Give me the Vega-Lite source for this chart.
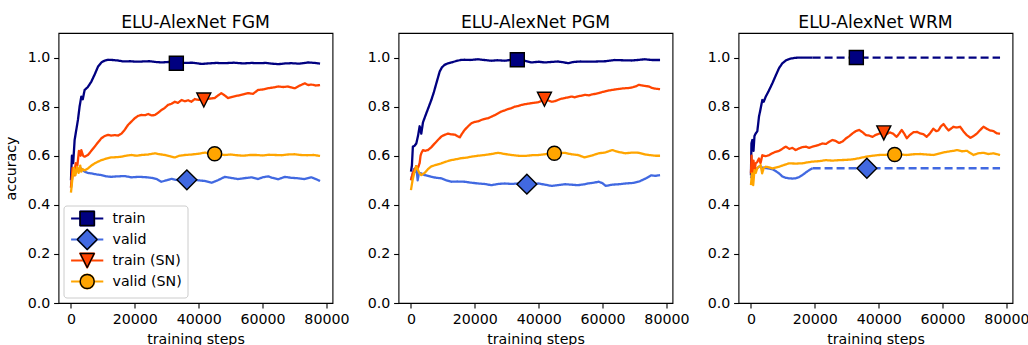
{
"$schema": "https://vega.github.io/schema/vega-lite/v6.json",
"autosize": {"type": "pad"},
"padding": {"left": 3.5, "top": 13, "right": 0, "bottom": 0},
"background": "white",
"spacing": 66,
"bounds": "flush",
"config": {
  "font": "DejaVu Sans",
  "view": {"stroke": "black", "strokeWidth": 1.1},
  "axis": {"grid": false, "domain": false, "tickColor": "black", "tickSize": 4.9, "tickWidth": 1.1, "labelFont": "DejaVu Sans", "labelFontSize": 14.2, "labelColor": "black", "titleFont": "DejaVu Sans", "titleFontSize": 14.2, "titleFontWeight": "normal", "titleColor": "black", "labelFlush": false, "labelOverlap": false},
  "axisX": {"labelPadding": 5, "titlePadding": 5},
  "axisY": {"labelPadding": 3.8, "titlePadding": 9},
  "title": {"font": "DejaVu Sans", "fontSize": 17.2, "fontWeight": "normal", "color": "black", "anchor": "middle", "frame": "group", "offset": 2, "baseline": "alphabetic"}
},
"resolve": {
  "scale": {"stroke": "independent", "fill": "independent", "shape": "independent", "strokeDash": "independent"},
  "legend": {"stroke": "independent", "fill": "independent", "shape": "independent", "strokeDash": "independent"}
},
"datasets": {
  "marks": [
    {"panel": "FGM", "label": "train", "step": 33000, "acc": 0.977},
    {"panel": "FGM", "label": "valid", "step": 36300, "acc": 0.502},
    {"panel": "FGM", "label": "train (SN)", "step": 41600, "acc": 0.827},
    {"panel": "FGM", "label": "valid (SN)", "step": 45000, "acc": 0.608},
    {"panel": "PGM", "label": "train", "step": 33300, "acc": 0.991},
    {"panel": "PGM", "label": "valid", "step": 36300, "acc": 0.484},
    {"panel": "PGM", "label": "train (SN)", "step": 41800, "acc": 0.83},
    {"panel": "PGM", "label": "valid (SN)", "step": 44900, "acc": 0.61},
    {"panel": "WRM", "label": "train", "step": 33000, "acc": 1.0},
    {"panel": "WRM", "label": "valid", "step": 36300, "acc": 0.549},
    {"panel": "WRM", "label": "train (SN)", "step": 41600, "acc": 0.693},
    {"panel": "WRM", "label": "valid (SN)", "step": 45000, "acc": 0.605}
  ],
  "lines": [
{"panel":"FGM","series":"train","seg":"a","step":0,"acc":0.50},
{"panel":"FGM","series":"train","seg":"a","step":300,"acc":0.60},
{"panel":"FGM","series":"train","seg":"a","step":700,"acc":0.57},
{"panel":"FGM","series":"train","seg":"a","step":1150,"acc":0.664},
{"panel":"FGM","series":"train","seg":"a","step":1600,"acc":0.70},
{"panel":"FGM","series":"train","seg":"a","step":2190,"acc":0.746},
{"panel":"FGM","series":"train","seg":"a","step":2700,"acc":0.80},
{"panel":"FGM","series":"train","seg":"a","step":3240,"acc":0.841},
{"panel":"FGM","series":"train","seg":"a","step":3700,"acc":0.83},
{"panel":"FGM","series":"train","seg":"a","step":4290,"acc":0.868},
{"panel":"FGM","series":"train","seg":"a","step":5300,"acc":0.88},
{"panel":"FGM","series":"train","seg":"a","step":6380,"acc":0.902},
{"panel":"FGM","series":"train","seg":"a","step":7400,"acc":0.93},
{"panel":"FGM","series":"train","seg":"a","step":8470,"acc":0.963},
{"panel":"FGM","series":"train","seg":"a","step":9520,"acc":0.98},
{"panel":"FGM","series":"train","seg":"a","step":10500,"acc":0.987},
{"panel":"FGM","series":"train","seg":"a","step":11600,"acc":0.991},
{"panel":"FGM","series":"train","seg":"a","step":13000,"acc":0.99},
{"panel":"FGM","series":"train","seg":"a","step":14700,"acc":0.988},
{"panel":"FGM","series":"train","seg":"a","step":16500,"acc":0.984},
{"panel":"FGM","series":"train","seg":"a","step":18500,"acc":0.985},
{"panel":"FGM","series":"train","seg":"a","step":20500,"acc":0.983},
{"panel":"FGM","series":"train","seg":"a","step":22500,"acc":0.984},
{"panel":"FGM","series":"train","seg":"a","step":24500,"acc":0.985},
{"panel":"FGM","series":"train","seg":"a","step":26500,"acc":0.982},
{"panel":"FGM","series":"train","seg":"a","step":28500,"acc":0.98},
{"panel":"FGM","series":"train","seg":"a","step":30400,"acc":0.982},
{"panel":"FGM","series":"train","seg":"a","step":33000,"acc":0.977},
{"panel":"FGM","series":"train","seg":"a","step":35500,"acc":0.978},
{"panel":"FGM","series":"train","seg":"a","step":38000,"acc":0.979},
{"panel":"FGM","series":"train","seg":"a","step":40900,"acc":0.974},
{"panel":"FGM","series":"train","seg":"a","step":43000,"acc":0.976},
{"panel":"FGM","series":"train","seg":"a","step":45500,"acc":0.978},
{"panel":"FGM","series":"train","seg":"a","step":48200,"acc":0.977},
{"panel":"FGM","series":"train","seg":"a","step":51000,"acc":0.979},
{"panel":"FGM","series":"train","seg":"a","step":54000,"acc":0.976},
{"panel":"FGM","series":"train","seg":"a","step":56500,"acc":0.978},
{"panel":"FGM","series":"train","seg":"a","step":58700,"acc":0.977},
{"panel":"FGM","series":"train","seg":"a","step":61000,"acc":0.978},
{"panel":"FGM","series":"train","seg":"a","step":63000,"acc":0.975},
{"panel":"FGM","series":"train","seg":"a","step":65000,"acc":0.973},
{"panel":"FGM","series":"train","seg":"a","step":67000,"acc":0.976},
{"panel":"FGM","series":"train","seg":"a","step":69100,"acc":0.977},
{"panel":"FGM","series":"train","seg":"a","step":71500,"acc":0.975},
{"panel":"FGM","series":"train","seg":"a","step":74300,"acc":0.98},
{"panel":"FGM","series":"train","seg":"a","step":76500,"acc":0.978},
{"panel":"FGM","series":"train","seg":"a","step":78000,"acc":0.975},
{"panel":"FGM","series":"valid","seg":"a","step":0,"acc":0.47},
{"panel":"FGM","series":"valid","seg":"a","step":500,"acc":0.52},
{"panel":"FGM","series":"valid","seg":"a","step":1000,"acc":0.55},
{"panel":"FGM","series":"valid","seg":"a","step":1500,"acc":0.53},
{"panel":"FGM","series":"valid","seg":"a","step":2000,"acc":0.55},
{"panel":"FGM","series":"valid","seg":"a","step":2700,"acc":0.54},
{"panel":"FGM","series":"valid","seg":"a","step":3240,"acc":0.548},
{"panel":"FGM","series":"valid","seg":"a","step":4290,"acc":0.535},
{"panel":"FGM","series":"valid","seg":"a","step":5300,"acc":0.53},
{"panel":"FGM","series":"valid","seg":"a","step":6380,"acc":0.528},
{"panel":"FGM","series":"valid","seg":"a","step":8000,"acc":0.524},
{"panel":"FGM","series":"valid","seg":"a","step":9520,"acc":0.521},
{"panel":"FGM","series":"valid","seg":"a","step":11000,"acc":0.516},
{"panel":"FGM","series":"valid","seg":"a","step":12600,"acc":0.514},
{"panel":"FGM","series":"valid","seg":"a","step":14500,"acc":0.516},
{"panel":"FGM","series":"valid","seg":"a","step":16800,"acc":0.517},
{"panel":"FGM","series":"valid","seg":"a","step":19000,"acc":0.512},
{"panel":"FGM","series":"valid","seg":"a","step":21000,"acc":0.514},
{"panel":"FGM","series":"valid","seg":"a","step":23000,"acc":0.513},
{"panel":"FGM","series":"valid","seg":"a","step":25200,"acc":0.51},
{"panel":"FGM","series":"valid","seg":"a","step":27000,"acc":0.504},
{"panel":"FGM","series":"valid","seg":"a","step":28300,"acc":0.494},
{"panel":"FGM","series":"valid","seg":"a","step":30000,"acc":0.50},
{"panel":"FGM","series":"valid","seg":"a","step":31500,"acc":0.506},
{"panel":"FGM","series":"valid","seg":"a","step":33500,"acc":0.50},
{"panel":"FGM","series":"valid","seg":"a","step":36300,"acc":0.502},
{"panel":"FGM","series":"valid","seg":"a","step":38000,"acc":0.503},
{"panel":"FGM","series":"valid","seg":"a","step":39800,"acc":0.50},
{"panel":"FGM","series":"valid","seg":"a","step":42000,"acc":0.497},
{"panel":"FGM","series":"valid","seg":"a","step":44100,"acc":0.49},
{"panel":"FGM","series":"valid","seg":"a","step":46000,"acc":0.50},
{"panel":"FGM","series":"valid","seg":"a","step":48200,"acc":0.514},
{"panel":"FGM","series":"valid","seg":"a","step":50000,"acc":0.51},
{"panel":"FGM","series":"valid","seg":"a","step":52300,"acc":0.505},
{"panel":"FGM","series":"valid","seg":"a","step":54000,"acc":0.508},
{"panel":"FGM","series":"valid","seg":"a","step":56500,"acc":0.512},
{"panel":"FGM","series":"valid","seg":"a","step":58600,"acc":0.505},
{"panel":"FGM","series":"valid","seg":"a","step":60000,"acc":0.512},
{"panel":"FGM","series":"valid","seg":"a","step":61800,"acc":0.516},
{"panel":"FGM","series":"valid","seg":"a","step":63000,"acc":0.51},
{"panel":"FGM","series":"valid","seg":"a","step":64900,"acc":0.504},
{"panel":"FGM","series":"valid","seg":"a","step":67000,"acc":0.514},
{"panel":"FGM","series":"valid","seg":"a","step":69000,"acc":0.51},
{"panel":"FGM","series":"valid","seg":"a","step":71200,"acc":0.508},
{"panel":"FGM","series":"valid","seg":"a","step":73000,"acc":0.505},
{"panel":"FGM","series":"valid","seg":"a","step":75300,"acc":0.512},
{"panel":"FGM","series":"valid","seg":"a","step":77000,"acc":0.503},
{"panel":"FGM","series":"valid","seg":"a","step":78000,"acc":0.497},
{"panel":"FGM","series":"train (SN)","seg":"a","step":0,"acc":0.47},
{"panel":"FGM","series":"train (SN)","seg":"a","step":500,"acc":0.55},
{"panel":"FGM","series":"train (SN)","seg":"a","step":1000,"acc":0.52},
{"panel":"FGM","series":"train (SN)","seg":"a","step":1500,"acc":0.57},
{"panel":"FGM","series":"train (SN)","seg":"a","step":2000,"acc":0.56},
{"panel":"FGM","series":"train (SN)","seg":"a","step":2500,"acc":0.62},
{"panel":"FGM","series":"train (SN)","seg":"a","step":3000,"acc":0.60},
{"panel":"FGM","series":"train (SN)","seg":"a","step":3240,"acc":0.623},
{"panel":"FGM","series":"train (SN)","seg":"a","step":3800,"acc":0.60},
{"panel":"FGM","series":"train (SN)","seg":"a","step":4290,"acc":0.596},
{"panel":"FGM","series":"train (SN)","seg":"a","step":5300,"acc":0.603},
{"panel":"FGM","series":"train (SN)","seg":"a","step":6380,"acc":0.62},
{"panel":"FGM","series":"train (SN)","seg":"a","step":7430,"acc":0.637},
{"panel":"FGM","series":"train (SN)","seg":"a","step":8500,"acc":0.655},
{"panel":"FGM","series":"train (SN)","seg":"a","step":9520,"acc":0.671},
{"panel":"FGM","series":"train (SN)","seg":"a","step":10500,"acc":0.68},
{"panel":"FGM","series":"train (SN)","seg":"a","step":11600,"acc":0.685},
{"panel":"FGM","series":"train (SN)","seg":"a","step":12600,"acc":0.682},
{"panel":"FGM","series":"train (SN)","seg":"a","step":13700,"acc":0.684},
{"panel":"FGM","series":"train (SN)","seg":"a","step":14800,"acc":0.682},
{"panel":"FGM","series":"train (SN)","seg":"a","step":15800,"acc":0.69},
{"panel":"FGM","series":"train (SN)","seg":"a","step":16800,"acc":0.705},
{"panel":"FGM","series":"train (SN)","seg":"a","step":17900,"acc":0.726},
{"panel":"FGM","series":"train (SN)","seg":"a","step":19000,"acc":0.74},
{"panel":"FGM","series":"train (SN)","seg":"a","step":20000,"acc":0.753},
{"panel":"FGM","series":"train (SN)","seg":"a","step":21000,"acc":0.762},
{"panel":"FGM","series":"train (SN)","seg":"a","step":22100,"acc":0.766},
{"panel":"FGM","series":"train (SN)","seg":"a","step":23200,"acc":0.765},
{"panel":"FGM","series":"train (SN)","seg":"a","step":24200,"acc":0.77},
{"panel":"FGM","series":"train (SN)","seg":"a","step":25300,"acc":0.764},
{"panel":"FGM","series":"train (SN)","seg":"a","step":26300,"acc":0.766},
{"panel":"FGM","series":"train (SN)","seg":"a","step":27300,"acc":0.775},
{"panel":"FGM","series":"train (SN)","seg":"a","step":28300,"acc":0.786},
{"panel":"FGM","series":"train (SN)","seg":"a","step":29400,"acc":0.795},
{"panel":"FGM","series":"train (SN)","seg":"a","step":30400,"acc":0.807},
{"panel":"FGM","series":"train (SN)","seg":"a","step":31500,"acc":0.812},
{"panel":"FGM","series":"train (SN)","seg":"a","step":32500,"acc":0.82},
{"panel":"FGM","series":"train (SN)","seg":"a","step":33500,"acc":0.815},
{"panel":"FGM","series":"train (SN)","seg":"a","step":34600,"acc":0.827},
{"panel":"FGM","series":"train (SN)","seg":"a","step":35700,"acc":0.822},
{"panel":"FGM","series":"train (SN)","seg":"a","step":36700,"acc":0.826},
{"panel":"FGM","series":"train (SN)","seg":"a","step":37700,"acc":0.82},
{"panel":"FGM","series":"train (SN)","seg":"a","step":38800,"acc":0.831},
{"panel":"FGM","series":"train (SN)","seg":"a","step":39800,"acc":0.828},
{"panel":"FGM","series":"train (SN)","seg":"a","step":41600,"acc":0.828},
{"panel":"FGM","series":"train (SN)","seg":"a","step":43000,"acc":0.832},
{"panel":"FGM","series":"train (SN)","seg":"a","step":45000,"acc":0.835},
{"panel":"FGM","series":"train (SN)","seg":"a","step":46000,"acc":0.845},
{"panel":"FGM","series":"train (SN)","seg":"a","step":47100,"acc":0.855},
{"panel":"FGM","series":"train (SN)","seg":"a","step":48200,"acc":0.845},
{"panel":"FGM","series":"train (SN)","seg":"a","step":49200,"acc":0.835},
{"panel":"FGM","series":"train (SN)","seg":"a","step":50500,"acc":0.84},
{"panel":"FGM","series":"train (SN)","seg":"a","step":52300,"acc":0.845},
{"panel":"FGM","series":"train (SN)","seg":"a","step":54000,"acc":0.85},
{"panel":"FGM","series":"train (SN)","seg":"a","step":55500,"acc":0.855},
{"panel":"FGM","series":"train (SN)","seg":"a","step":57000,"acc":0.852},
{"panel":"FGM","series":"train (SN)","seg":"a","step":58600,"acc":0.868},
{"panel":"FGM","series":"train (SN)","seg":"a","step":60200,"acc":0.87},
{"panel":"FGM","series":"train (SN)","seg":"a","step":61800,"acc":0.875},
{"panel":"FGM","series":"train (SN)","seg":"a","step":63300,"acc":0.878},
{"panel":"FGM","series":"train (SN)","seg":"a","step":64900,"acc":0.882},
{"panel":"FGM","series":"train (SN)","seg":"a","step":66500,"acc":0.88},
{"panel":"FGM","series":"train (SN)","seg":"a","step":68000,"acc":0.882},
{"panel":"FGM","series":"train (SN)","seg":"a","step":69000,"acc":0.878},
{"panel":"FGM","series":"train (SN)","seg":"a","step":70100,"acc":0.875},
{"panel":"FGM","series":"train (SN)","seg":"a","step":71500,"acc":0.885},
{"panel":"FGM","series":"train (SN)","seg":"a","step":73200,"acc":0.895},
{"panel":"FGM","series":"train (SN)","seg":"a","step":74300,"acc":0.888},
{"panel":"FGM","series":"train (SN)","seg":"a","step":75300,"acc":0.89},
{"panel":"FGM","series":"train (SN)","seg":"a","step":76700,"acc":0.886},
{"panel":"FGM","series":"train (SN)","seg":"a","step":78000,"acc":0.888},
{"panel":"FGM","series":"valid (SN)","seg":"a","step":0,"acc":0.45},
{"panel":"FGM","series":"valid (SN)","seg":"a","step":400,"acc":0.50},
{"panel":"FGM","series":"valid (SN)","seg":"a","step":900,"acc":0.55},
{"panel":"FGM","series":"valid (SN)","seg":"a","step":1400,"acc":0.52},
{"panel":"FGM","series":"valid (SN)","seg":"a","step":1900,"acc":0.555},
{"panel":"FGM","series":"valid (SN)","seg":"a","step":2400,"acc":0.53},
{"panel":"FGM","series":"valid (SN)","seg":"a","step":2900,"acc":0.56},
{"panel":"FGM","series":"valid (SN)","seg":"a","step":3240,"acc":0.535},
{"panel":"FGM","series":"valid (SN)","seg":"a","step":3700,"acc":0.545},
{"panel":"FGM","series":"valid (SN)","seg":"a","step":4290,"acc":0.54},
{"panel":"FGM","series":"valid (SN)","seg":"a","step":5330,"acc":0.548},
{"panel":"FGM","series":"valid (SN)","seg":"a","step":6400,"acc":0.56},
{"panel":"FGM","series":"valid (SN)","seg":"a","step":7430,"acc":0.569},
{"panel":"FGM","series":"valid (SN)","seg":"a","step":8500,"acc":0.576},
{"panel":"FGM","series":"valid (SN)","seg":"a","step":9520,"acc":0.582},
{"panel":"FGM","series":"valid (SN)","seg":"a","step":11000,"acc":0.588},
{"panel":"FGM","series":"valid (SN)","seg":"a","step":12600,"acc":0.593},
{"panel":"FGM","series":"valid (SN)","seg":"a","step":14200,"acc":0.594},
{"panel":"FGM","series":"valid (SN)","seg":"a","step":15800,"acc":0.596},
{"panel":"FGM","series":"valid (SN)","seg":"a","step":17300,"acc":0.60},
{"panel":"FGM","series":"valid (SN)","seg":"a","step":18900,"acc":0.603},
{"panel":"FGM","series":"valid (SN)","seg":"a","step":20500,"acc":0.60},
{"panel":"FGM","series":"valid (SN)","seg":"a","step":22100,"acc":0.603},
{"panel":"FGM","series":"valid (SN)","seg":"a","step":24200,"acc":0.605},
{"panel":"FGM","series":"valid (SN)","seg":"a","step":26300,"acc":0.61},
{"panel":"FGM","series":"valid (SN)","seg":"a","step":27800,"acc":0.606},
{"panel":"FGM","series":"valid (SN)","seg":"a","step":29400,"acc":0.603},
{"panel":"FGM","series":"valid (SN)","seg":"a","step":31000,"acc":0.598},
{"panel":"FGM","series":"valid (SN)","seg":"a","step":32500,"acc":0.593},
{"panel":"FGM","series":"valid (SN)","seg":"a","step":34000,"acc":0.60},
{"panel":"FGM","series":"valid (SN)","seg":"a","step":35700,"acc":0.603},
{"panel":"FGM","series":"valid (SN)","seg":"a","step":37800,"acc":0.605},
{"panel":"FGM","series":"valid (SN)","seg":"a","step":39900,"acc":0.608},
{"panel":"FGM","series":"valid (SN)","seg":"a","step":42000,"acc":0.613},
{"panel":"FGM","series":"valid (SN)","seg":"a","step":43500,"acc":0.607},
{"panel":"FGM","series":"valid (SN)","seg":"a","step":45000,"acc":0.608},
{"panel":"FGM","series":"valid (SN)","seg":"a","step":46500,"acc":0.605},
{"panel":"FGM","series":"valid (SN)","seg":"a","step":48200,"acc":0.603},
{"panel":"FGM","series":"valid (SN)","seg":"a","step":50000,"acc":0.605},
{"panel":"FGM","series":"valid (SN)","seg":"a","step":52000,"acc":0.602},
{"panel":"FGM","series":"valid (SN)","seg":"a","step":54000,"acc":0.60},
{"panel":"FGM","series":"valid (SN)","seg":"a","step":56000,"acc":0.603},
{"panel":"FGM","series":"valid (SN)","seg":"a","step":58000,"acc":0.603},
{"panel":"FGM","series":"valid (SN)","seg":"a","step":60000,"acc":0.601},
{"panel":"FGM","series":"valid (SN)","seg":"a","step":62000,"acc":0.604},
{"panel":"FGM","series":"valid (SN)","seg":"a","step":64000,"acc":0.603},
{"panel":"FGM","series":"valid (SN)","seg":"a","step":66000,"acc":0.602},
{"panel":"FGM","series":"valid (SN)","seg":"a","step":68000,"acc":0.605},
{"panel":"FGM","series":"valid (SN)","seg":"a","step":70000,"acc":0.606},
{"panel":"FGM","series":"valid (SN)","seg":"a","step":72000,"acc":0.603},
{"panel":"FGM","series":"valid (SN)","seg":"a","step":74000,"acc":0.602},
{"panel":"FGM","series":"valid (SN)","seg":"a","step":76000,"acc":0.603},
{"panel":"FGM","series":"valid (SN)","seg":"a","step":78000,"acc":0.599},
{"panel":"PGM","series":"train","seg":"a","step":0,"acc":0.535},
{"panel":"PGM","series":"train","seg":"a","step":300,"acc":0.56},
{"panel":"PGM","series":"train","seg":"a","step":600,"acc":0.637},
{"panel":"PGM","series":"train","seg":"a","step":1100,"acc":0.64},
{"panel":"PGM","series":"train","seg":"a","step":1670,"acc":0.65},
{"panel":"PGM","series":"train","seg":"a","step":2200,"acc":0.68},
{"panel":"PGM","series":"train","seg":"a","step":2720,"acc":0.72},
{"panel":"PGM","series":"train","seg":"a","step":3240,"acc":0.69},
{"panel":"PGM","series":"train","seg":"a","step":3760,"acc":0.736},
{"panel":"PGM","series":"train","seg":"a","step":4300,"acc":0.755},
{"panel":"PGM","series":"train","seg":"a","step":4810,"acc":0.773},
{"panel":"PGM","series":"train","seg":"a","step":5600,"acc":0.80},
{"panel":"PGM","series":"train","seg":"a","step":6380,"acc":0.827},
{"panel":"PGM","series":"train","seg":"a","step":7200,"acc":0.86},
{"panel":"PGM","series":"train","seg":"a","step":7950,"acc":0.895},
{"panel":"PGM","series":"train","seg":"a","step":8500,"acc":0.92},
{"panel":"PGM","series":"train","seg":"a","step":9000,"acc":0.943},
{"panel":"PGM","series":"train","seg":"a","step":9700,"acc":0.96},
{"panel":"PGM","series":"train","seg":"a","step":10500,"acc":0.97},
{"panel":"PGM","series":"train","seg":"a","step":11500,"acc":0.976},
{"panel":"PGM","series":"train","seg":"a","step":12600,"acc":0.98},
{"panel":"PGM","series":"train","seg":"a","step":14000,"acc":0.985},
{"panel":"PGM","series":"train","seg":"a","step":15500,"acc":0.99},
{"panel":"PGM","series":"train","seg":"a","step":16800,"acc":0.991},
{"panel":"PGM","series":"train","seg":"a","step":18500,"acc":0.99},
{"panel":"PGM","series":"train","seg":"a","step":21000,"acc":0.993},
{"panel":"PGM","series":"train","seg":"a","step":23000,"acc":0.99},
{"panel":"PGM","series":"train","seg":"a","step":25200,"acc":0.987},
{"panel":"PGM","series":"train","seg":"a","step":27000,"acc":0.989},
{"panel":"PGM","series":"train","seg":"a","step":29400,"acc":0.987},
{"panel":"PGM","series":"train","seg":"a","step":31000,"acc":0.99},
{"panel":"PGM","series":"train","seg":"a","step":33300,"acc":0.991},
{"panel":"PGM","series":"train","seg":"a","step":35500,"acc":0.987},
{"panel":"PGM","series":"train","seg":"a","step":37700,"acc":0.98},
{"panel":"PGM","series":"train","seg":"a","step":40000,"acc":0.983},
{"panel":"PGM","series":"train","seg":"a","step":41800,"acc":0.98},
{"panel":"PGM","series":"train","seg":"a","step":44000,"acc":0.982},
{"panel":"PGM","series":"train","seg":"a","step":46000,"acc":0.984},
{"panel":"PGM","series":"train","seg":"a","step":48000,"acc":0.98},
{"panel":"PGM","series":"train","seg":"a","step":49200,"acc":0.977},
{"panel":"PGM","series":"train","seg":"a","step":51000,"acc":0.982},
{"panel":"PGM","series":"train","seg":"a","step":53000,"acc":0.984},
{"panel":"PGM","series":"train","seg":"a","step":55000,"acc":0.983},
{"panel":"PGM","series":"train","seg":"a","step":58600,"acc":0.984},
{"panel":"PGM","series":"train","seg":"a","step":61000,"acc":0.985},
{"panel":"PGM","series":"train","seg":"a","step":63800,"acc":0.99},
{"panel":"PGM","series":"train","seg":"a","step":66000,"acc":0.989},
{"panel":"PGM","series":"train","seg":"a","step":69000,"acc":0.988},
{"panel":"PGM","series":"train","seg":"a","step":71000,"acc":0.99},
{"panel":"PGM","series":"train","seg":"a","step":73200,"acc":0.993},
{"panel":"PGM","series":"train","seg":"a","step":75500,"acc":0.99},
{"panel":"PGM","series":"train","seg":"a","step":78000,"acc":0.99},
{"panel":"PGM","series":"valid","seg":"a","step":0,"acc":0.50},
{"panel":"PGM","series":"valid","seg":"a","step":400,"acc":0.52},
{"panel":"PGM","series":"valid","seg":"a","step":900,"acc":0.545},
{"panel":"PGM","series":"valid","seg":"a","step":1400,"acc":0.535},
{"panel":"PGM","series":"valid","seg":"a","step":1670,"acc":0.557},
{"panel":"PGM","series":"valid","seg":"a","step":2100,"acc":0.50},
{"panel":"PGM","series":"valid","seg":"a","step":2500,"acc":0.53},
{"panel":"PGM","series":"valid","seg":"a","step":3240,"acc":0.528},
{"panel":"PGM","series":"valid","seg":"a","step":4290,"acc":0.521},
{"panel":"PGM","series":"valid","seg":"a","step":5300,"acc":0.518},
{"panel":"PGM","series":"valid","seg":"a","step":6380,"acc":0.514},
{"panel":"PGM","series":"valid","seg":"a","step":8000,"acc":0.51},
{"panel":"PGM","series":"valid","seg":"a","step":9520,"acc":0.508},
{"panel":"PGM","series":"valid","seg":"a","step":11000,"acc":0.50},
{"panel":"PGM","series":"valid","seg":"a","step":12600,"acc":0.494},
{"panel":"PGM","series":"valid","seg":"a","step":14500,"acc":0.495},
{"panel":"PGM","series":"valid","seg":"a","step":16800,"acc":0.494},
{"panel":"PGM","series":"valid","seg":"a","step":19000,"acc":0.49},
{"panel":"PGM","series":"valid","seg":"a","step":21000,"acc":0.487},
{"panel":"PGM","series":"valid","seg":"a","step":23000,"acc":0.485},
{"panel":"PGM","series":"valid","seg":"a","step":25200,"acc":0.48},
{"panel":"PGM","series":"valid","seg":"a","step":27300,"acc":0.485},
{"panel":"PGM","series":"valid","seg":"a","step":29400,"acc":0.487},
{"panel":"PGM","series":"valid","seg":"a","step":31500,"acc":0.485},
{"panel":"PGM","series":"valid","seg":"a","step":33500,"acc":0.487},
{"panel":"PGM","series":"valid","seg":"a","step":36300,"acc":0.484},
{"panel":"PGM","series":"valid","seg":"a","step":38000,"acc":0.486},
{"panel":"PGM","series":"valid","seg":"a","step":39900,"acc":0.487},
{"panel":"PGM","series":"valid","seg":"a","step":42000,"acc":0.482},
{"panel":"PGM","series":"valid","seg":"a","step":44100,"acc":0.477},
{"panel":"PGM","series":"valid","seg":"a","step":46000,"acc":0.48},
{"panel":"PGM","series":"valid","seg":"a","step":48200,"acc":0.484},
{"panel":"PGM","series":"valid","seg":"a","step":50200,"acc":0.482},
{"panel":"PGM","series":"valid","seg":"a","step":52300,"acc":0.48},
{"panel":"PGM","series":"valid","seg":"a","step":54000,"acc":0.483},
{"panel":"PGM","series":"valid","seg":"a","step":55500,"acc":0.487},
{"panel":"PGM","series":"valid","seg":"a","step":57200,"acc":0.49},
{"panel":"PGM","series":"valid","seg":"a","step":58800,"acc":0.494},
{"panel":"PGM","series":"valid","seg":"a","step":60000,"acc":0.488},
{"panel":"PGM","series":"valid","seg":"a","step":61000,"acc":0.477},
{"panel":"PGM","series":"valid","seg":"a","step":63000,"acc":0.482},
{"panel":"PGM","series":"valid","seg":"a","step":65200,"acc":0.484},
{"panel":"PGM","series":"valid","seg":"a","step":67300,"acc":0.487},
{"panel":"PGM","series":"valid","seg":"a","step":69400,"acc":0.489},
{"panel":"PGM","series":"valid","seg":"a","step":71500,"acc":0.495},
{"panel":"PGM","series":"valid","seg":"a","step":73600,"acc":0.508},
{"panel":"PGM","series":"valid","seg":"a","step":75200,"acc":0.52},
{"panel":"PGM","series":"valid","seg":"a","step":76500,"acc":0.518},
{"panel":"PGM","series":"valid","seg":"a","step":78000,"acc":0.521},
{"panel":"PGM","series":"train (SN)","seg":"a","step":0,"acc":0.50},
{"panel":"PGM","series":"train (SN)","seg":"a","step":600,"acc":0.53},
{"panel":"PGM","series":"train (SN)","seg":"a","step":1670,"acc":0.557},
{"panel":"PGM","series":"train (SN)","seg":"a","step":2200,"acc":0.55},
{"panel":"PGM","series":"train (SN)","seg":"a","step":2720,"acc":0.57},
{"panel":"PGM","series":"train (SN)","seg":"a","step":3000,"acc":0.60},
{"panel":"PGM","series":"train (SN)","seg":"a","step":3240,"acc":0.61},
{"panel":"PGM","series":"train (SN)","seg":"a","step":3760,"acc":0.623},
{"panel":"PGM","series":"train (SN)","seg":"a","step":4500,"acc":0.62},
{"panel":"PGM","series":"train (SN)","seg":"a","step":5330,"acc":0.623},
{"panel":"PGM","series":"train (SN)","seg":"a","step":6400,"acc":0.635},
{"panel":"PGM","series":"train (SN)","seg":"a","step":7430,"acc":0.65},
{"panel":"PGM","series":"train (SN)","seg":"a","step":8500,"acc":0.665},
{"panel":"PGM","series":"train (SN)","seg":"a","step":9520,"acc":0.678},
{"panel":"PGM","series":"train (SN)","seg":"a","step":10500,"acc":0.685},
{"panel":"PGM","series":"train (SN)","seg":"a","step":11600,"acc":0.69},
{"panel":"PGM","series":"train (SN)","seg":"a","step":12600,"acc":0.687},
{"panel":"PGM","series":"train (SN)","seg":"a","step":13700,"acc":0.686},
{"panel":"PGM","series":"train (SN)","seg":"a","step":14500,"acc":0.68},
{"panel":"PGM","series":"train (SN)","seg":"a","step":15300,"acc":0.675},
{"panel":"PGM","series":"train (SN)","seg":"a","step":16000,"acc":0.69},
{"panel":"PGM","series":"train (SN)","seg":"a","step":16800,"acc":0.705},
{"panel":"PGM","series":"train (SN)","seg":"a","step":17900,"acc":0.72},
{"panel":"PGM","series":"train (SN)","seg":"a","step":18900,"acc":0.732},
{"panel":"PGM","series":"train (SN)","seg":"a","step":20000,"acc":0.738},
{"panel":"PGM","series":"train (SN)","seg":"a","step":21000,"acc":0.74},
{"panel":"PGM","series":"train (SN)","seg":"a","step":22100,"acc":0.746},
{"panel":"PGM","series":"train (SN)","seg":"a","step":23200,"acc":0.75},
{"panel":"PGM","series":"train (SN)","seg":"a","step":24200,"acc":0.753},
{"panel":"PGM","series":"train (SN)","seg":"a","step":25200,"acc":0.759},
{"panel":"PGM","series":"train (SN)","seg":"a","step":26200,"acc":0.765},
{"panel":"PGM","series":"train (SN)","seg":"a","step":27200,"acc":0.772},
{"panel":"PGM","series":"train (SN)","seg":"a","step":28300,"acc":0.78},
{"panel":"PGM","series":"train (SN)","seg":"a","step":29400,"acc":0.785},
{"panel":"PGM","series":"train (SN)","seg":"a","step":30400,"acc":0.79},
{"panel":"PGM","series":"train (SN)","seg":"a","step":31500,"acc":0.794},
{"panel":"PGM","series":"train (SN)","seg":"a","step":32500,"acc":0.80},
{"panel":"PGM","series":"train (SN)","seg":"a","step":33500,"acc":0.802},
{"panel":"PGM","series":"train (SN)","seg":"a","step":34600,"acc":0.807},
{"panel":"PGM","series":"train (SN)","seg":"a","step":35700,"acc":0.81},
{"panel":"PGM","series":"train (SN)","seg":"a","step":36700,"acc":0.812},
{"panel":"PGM","series":"train (SN)","seg":"a","step":37700,"acc":0.814},
{"panel":"PGM","series":"train (SN)","seg":"a","step":38800,"acc":0.816},
{"panel":"PGM","series":"train (SN)","seg":"a","step":39900,"acc":0.818},
{"panel":"PGM","series":"train (SN)","seg":"a","step":42000,"acc":0.83},
{"panel":"PGM","series":"train (SN)","seg":"a","step":43000,"acc":0.825},
{"panel":"PGM","series":"train (SN)","seg":"a","step":44000,"acc":0.82},
{"panel":"PGM","series":"train (SN)","seg":"a","step":45000,"acc":0.822},
{"panel":"PGM","series":"train (SN)","seg":"a","step":46000,"acc":0.827},
{"panel":"PGM","series":"train (SN)","seg":"a","step":47000,"acc":0.832},
{"panel":"PGM","series":"train (SN)","seg":"a","step":48200,"acc":0.835},
{"panel":"PGM","series":"train (SN)","seg":"a","step":49200,"acc":0.838},
{"panel":"PGM","series":"train (SN)","seg":"a","step":50200,"acc":0.841},
{"panel":"PGM","series":"train (SN)","seg":"a","step":51300,"acc":0.838},
{"panel":"PGM","series":"train (SN)","seg":"a","step":52300,"acc":0.842},
{"panel":"PGM","series":"train (SN)","seg":"a","step":53500,"acc":0.845},
{"panel":"PGM","series":"train (SN)","seg":"a","step":54600,"acc":0.848},
{"panel":"PGM","series":"train (SN)","seg":"a","step":55700,"acc":0.846},
{"panel":"PGM","series":"train (SN)","seg":"a","step":56700,"acc":0.85},
{"panel":"PGM","series":"train (SN)","seg":"a","step":57800,"acc":0.852},
{"panel":"PGM","series":"train (SN)","seg":"a","step":58800,"acc":0.855},
{"panel":"PGM","series":"train (SN)","seg":"a","step":60000,"acc":0.86},
{"panel":"PGM","series":"train (SN)","seg":"a","step":61000,"acc":0.863},
{"panel":"PGM","series":"train (SN)","seg":"a","step":62000,"acc":0.866},
{"panel":"PGM","series":"train (SN)","seg":"a","step":63000,"acc":0.868},
{"panel":"PGM","series":"train (SN)","seg":"a","step":64000,"acc":0.87},
{"panel":"PGM","series":"train (SN)","seg":"a","step":65100,"acc":0.872},
{"panel":"PGM","series":"train (SN)","seg":"a","step":66200,"acc":0.874},
{"panel":"PGM","series":"train (SN)","seg":"a","step":67200,"acc":0.875},
{"panel":"PGM","series":"train (SN)","seg":"a","step":68200,"acc":0.876},
{"panel":"PGM","series":"train (SN)","seg":"a","step":69200,"acc":0.878},
{"panel":"PGM","series":"train (SN)","seg":"a","step":70300,"acc":0.882},
{"panel":"PGM","series":"train (SN)","seg":"a","step":71400,"acc":0.889},
{"panel":"PGM","series":"train (SN)","seg":"a","step":72500,"acc":0.886},
{"panel":"PGM","series":"train (SN)","seg":"a","step":73500,"acc":0.884},
{"panel":"PGM","series":"train (SN)","seg":"a","step":74500,"acc":0.882},
{"panel":"PGM","series":"train (SN)","seg":"a","step":75500,"acc":0.876},
{"panel":"PGM","series":"train (SN)","seg":"a","step":76700,"acc":0.873},
{"panel":"PGM","series":"train (SN)","seg":"a","step":78000,"acc":0.871},
{"panel":"PGM","series":"valid (SN)","seg":"a","step":0,"acc":0.46},
{"panel":"PGM","series":"valid (SN)","seg":"a","step":500,"acc":0.50},
{"panel":"PGM","series":"valid (SN)","seg":"a","step":1000,"acc":0.528},
{"panel":"PGM","series":"valid (SN)","seg":"a","step":1670,"acc":0.557},
{"panel":"PGM","series":"valid (SN)","seg":"a","step":2100,"acc":0.545},
{"panel":"PGM","series":"valid (SN)","seg":"a","step":2600,"acc":0.53},
{"panel":"PGM","series":"valid (SN)","seg":"a","step":3240,"acc":0.521},
{"panel":"PGM","series":"valid (SN)","seg":"a","step":3700,"acc":0.525},
{"panel":"PGM","series":"valid (SN)","seg":"a","step":4290,"acc":0.53},
{"panel":"PGM","series":"valid (SN)","seg":"a","step":5300,"acc":0.545},
{"panel":"PGM","series":"valid (SN)","seg":"a","step":6380,"acc":0.557},
{"panel":"PGM","series":"valid (SN)","seg":"a","step":8000,"acc":0.563},
{"panel":"PGM","series":"valid (SN)","seg":"a","step":9520,"acc":0.569},
{"panel":"PGM","series":"valid (SN)","seg":"a","step":11000,"acc":0.576},
{"panel":"PGM","series":"valid (SN)","seg":"a","step":12600,"acc":0.582},
{"panel":"PGM","series":"valid (SN)","seg":"a","step":14200,"acc":0.586},
{"panel":"PGM","series":"valid (SN)","seg":"a","step":15800,"acc":0.59},
{"panel":"PGM","series":"valid (SN)","seg":"a","step":17300,"acc":0.592},
{"panel":"PGM","series":"valid (SN)","seg":"a","step":18900,"acc":0.596},
{"panel":"PGM","series":"valid (SN)","seg":"a","step":21000,"acc":0.60},
{"panel":"PGM","series":"valid (SN)","seg":"a","step":23100,"acc":0.603},
{"panel":"PGM","series":"valid (SN)","seg":"a","step":25200,"acc":0.607},
{"panel":"PGM","series":"valid (SN)","seg":"a","step":27300,"acc":0.612},
{"panel":"PGM","series":"valid (SN)","seg":"a","step":29400,"acc":0.607},
{"panel":"PGM","series":"valid (SN)","seg":"a","step":31500,"acc":0.603},
{"panel":"PGM","series":"valid (SN)","seg":"a","step":33500,"acc":0.60},
{"panel":"PGM","series":"valid (SN)","seg":"a","step":35700,"acc":0.599},
{"panel":"PGM","series":"valid (SN)","seg":"a","step":37800,"acc":0.602},
{"panel":"PGM","series":"valid (SN)","seg":"a","step":39900,"acc":0.603},
{"panel":"PGM","series":"valid (SN)","seg":"a","step":42000,"acc":0.606},
{"panel":"PGM","series":"valid (SN)","seg":"a","step":44900,"acc":0.61},
{"panel":"PGM","series":"valid (SN)","seg":"a","step":46500,"acc":0.61},
{"panel":"PGM","series":"valid (SN)","seg":"a","step":48200,"acc":0.612},
{"panel":"PGM","series":"valid (SN)","seg":"a","step":50200,"acc":0.606},
{"panel":"PGM","series":"valid (SN)","seg":"a","step":52300,"acc":0.603},
{"panel":"PGM","series":"valid (SN)","seg":"a","step":54400,"acc":0.593},
{"panel":"PGM","series":"valid (SN)","seg":"a","step":56500,"acc":0.60},
{"panel":"PGM","series":"valid (SN)","seg":"a","step":58800,"acc":0.61},
{"panel":"PGM","series":"valid (SN)","seg":"a","step":60800,"acc":0.613},
{"panel":"PGM","series":"valid (SN)","seg":"a","step":63000,"acc":0.623},
{"panel":"PGM","series":"valid (SN)","seg":"a","step":65100,"acc":0.615},
{"panel":"PGM","series":"valid (SN)","seg":"a","step":67200,"acc":0.61},
{"panel":"PGM","series":"valid (SN)","seg":"a","step":69300,"acc":0.613},
{"panel":"PGM","series":"valid (SN)","seg":"a","step":71400,"acc":0.612},
{"panel":"PGM","series":"valid (SN)","seg":"a","step":73000,"acc":0.606},
{"panel":"PGM","series":"valid (SN)","seg":"a","step":74500,"acc":0.603},
{"panel":"PGM","series":"valid (SN)","seg":"a","step":76500,"acc":0.60},
{"panel":"PGM","series":"valid (SN)","seg":"a","step":78000,"acc":0.60},
{"panel":"WRM","series":"train","seg":"a","step":0,"acc":0.52},
{"panel":"WRM","series":"train","seg":"a","step":150,"acc":0.65},
{"panel":"WRM","series":"train","seg":"a","step":420,"acc":0.664},
{"panel":"WRM","series":"train","seg":"a","step":800,"acc":0.62},
{"panel":"WRM","series":"train","seg":"a","step":1100,"acc":0.68},
{"panel":"WRM","series":"train","seg":"a","step":1460,"acc":0.69},
{"panel":"WRM","series":"train","seg":"a","step":2000,"acc":0.70},
{"panel":"WRM","series":"train","seg":"a","step":2510,"acc":0.759},
{"panel":"WRM","series":"train","seg":"a","step":3000,"acc":0.79},
{"panel":"WRM","series":"train","seg":"a","step":3560,"acc":0.827},
{"panel":"WRM","series":"train","seg":"a","step":4000,"acc":0.82},
{"panel":"WRM","series":"train","seg":"a","step":4600,"acc":0.84},
{"panel":"WRM","series":"train","seg":"a","step":5600,"acc":0.865},
{"panel":"WRM","series":"train","seg":"a","step":6700,"acc":0.895},
{"panel":"WRM","series":"train","seg":"a","step":7700,"acc":0.925},
{"panel":"WRM","series":"train","seg":"a","step":8800,"acc":0.957},
{"panel":"WRM","series":"train","seg":"a","step":9800,"acc":0.976},
{"panel":"WRM","series":"train","seg":"a","step":10900,"acc":0.988},
{"panel":"WRM","series":"train","seg":"a","step":12000,"acc":0.994},
{"panel":"WRM","series":"train","seg":"a","step":13000,"acc":0.997},
{"panel":"WRM","series":"train","seg":"a","step":14000,"acc":0.999},
{"panel":"WRM","series":"train","seg":"a","step":15100,"acc":1.0},
{"panel":"WRM","series":"train","seg":"a","step":17000,"acc":1.0},
{"panel":"WRM","series":"train","seg":"a","step":19300,"acc":1.0},
{"panel":"WRM","series":"train","seg":"b","step":19300,"acc":1.0},
{"panel":"WRM","series":"train","seg":"b","step":78000,"acc":1.0},
{"panel":"WRM","series":"valid","seg":"a","step":0,"acc":0.508},
{"panel":"WRM","series":"valid","seg":"a","step":400,"acc":0.53},
{"panel":"WRM","series":"valid","seg":"a","step":800,"acc":0.55},
{"panel":"WRM","series":"valid","seg":"a","step":1500,"acc":0.545},
{"panel":"WRM","series":"valid","seg":"a","step":2510,"acc":0.555},
{"panel":"WRM","series":"valid","seg":"a","step":3560,"acc":0.552},
{"panel":"WRM","series":"valid","seg":"a","step":4600,"acc":0.55},
{"panel":"WRM","series":"valid","seg":"a","step":5600,"acc":0.548},
{"panel":"WRM","series":"valid","seg":"a","step":6700,"acc":0.545},
{"panel":"WRM","series":"valid","seg":"a","step":7700,"acc":0.538},
{"panel":"WRM","series":"valid","seg":"a","step":8800,"acc":0.528},
{"panel":"WRM","series":"valid","seg":"a","step":9800,"acc":0.516},
{"panel":"WRM","series":"valid","seg":"a","step":10900,"acc":0.51},
{"panel":"WRM","series":"valid","seg":"a","step":11900,"acc":0.508},
{"panel":"WRM","series":"valid","seg":"a","step":13000,"acc":0.507},
{"panel":"WRM","series":"valid","seg":"a","step":14000,"acc":0.508},
{"panel":"WRM","series":"valid","seg":"a","step":15100,"acc":0.513},
{"panel":"WRM","series":"valid","seg":"a","step":16100,"acc":0.521},
{"panel":"WRM","series":"valid","seg":"a","step":17200,"acc":0.532},
{"panel":"WRM","series":"valid","seg":"a","step":18200,"acc":0.541},
{"panel":"WRM","series":"valid","seg":"a","step":19300,"acc":0.549},
{"panel":"WRM","series":"valid","seg":"b","step":19300,"acc":0.549},
{"panel":"WRM","series":"valid","seg":"b","step":78000,"acc":0.549},
{"panel":"WRM","series":"train (SN)","seg":"a","step":0,"acc":0.528},
{"panel":"WRM","series":"train (SN)","seg":"a","step":200,"acc":0.60},
{"panel":"WRM","series":"train (SN)","seg":"a","step":500,"acc":0.49},
{"panel":"WRM","series":"train (SN)","seg":"a","step":800,"acc":0.58},
{"panel":"WRM","series":"train (SN)","seg":"a","step":1100,"acc":0.53},
{"panel":"WRM","series":"train (SN)","seg":"a","step":1460,"acc":0.569},
{"panel":"WRM","series":"train (SN)","seg":"a","step":2000,"acc":0.575},
{"panel":"WRM","series":"train (SN)","seg":"a","step":2510,"acc":0.589},
{"panel":"WRM","series":"train (SN)","seg":"a","step":3000,"acc":0.57},
{"panel":"WRM","series":"train (SN)","seg":"a","step":3560,"acc":0.602},
{"panel":"WRM","series":"train (SN)","seg":"a","step":4600,"acc":0.598},
{"panel":"WRM","series":"train (SN)","seg":"a","step":5650,"acc":0.602},
{"panel":"WRM","series":"train (SN)","seg":"a","step":6700,"acc":0.61},
{"panel":"WRM","series":"train (SN)","seg":"a","step":7740,"acc":0.616},
{"panel":"WRM","series":"train (SN)","seg":"a","step":8800,"acc":0.62},
{"panel":"WRM","series":"train (SN)","seg":"a","step":9800,"acc":0.628},
{"panel":"WRM","series":"train (SN)","seg":"a","step":10900,"acc":0.637},
{"panel":"WRM","series":"train (SN)","seg":"a","step":12000,"acc":0.628},
{"panel":"WRM","series":"train (SN)","seg":"a","step":13000,"acc":0.632},
{"panel":"WRM","series":"train (SN)","seg":"a","step":14000,"acc":0.623},
{"panel":"WRM","series":"train (SN)","seg":"a","step":15100,"acc":0.63},
{"panel":"WRM","series":"train (SN)","seg":"a","step":16100,"acc":0.635},
{"panel":"WRM","series":"train (SN)","seg":"a","step":17200,"acc":0.637},
{"panel":"WRM","series":"train (SN)","seg":"a","step":18200,"acc":0.632},
{"panel":"WRM","series":"train (SN)","seg":"a","step":19300,"acc":0.637},
{"panel":"WRM","series":"train (SN)","seg":"a","step":20300,"acc":0.64},
{"panel":"WRM","series":"train (SN)","seg":"a","step":21400,"acc":0.645},
{"panel":"WRM","series":"train (SN)","seg":"a","step":22400,"acc":0.65},
{"panel":"WRM","series":"train (SN)","seg":"a","step":23500,"acc":0.648},
{"panel":"WRM","series":"train (SN)","seg":"a","step":24500,"acc":0.657},
{"panel":"WRM","series":"train (SN)","seg":"a","step":25500,"acc":0.664},
{"panel":"WRM","series":"train (SN)","seg":"a","step":26600,"acc":0.66},
{"panel":"WRM","series":"train (SN)","seg":"a","step":27600,"acc":0.652},
{"panel":"WRM","series":"train (SN)","seg":"a","step":28700,"acc":0.658},
{"panel":"WRM","series":"train (SN)","seg":"a","step":29700,"acc":0.67},
{"panel":"WRM","series":"train (SN)","seg":"a","step":30800,"acc":0.68},
{"panel":"WRM","series":"train (SN)","seg":"a","step":31800,"acc":0.691},
{"panel":"WRM","series":"train (SN)","seg":"a","step":32800,"acc":0.70},
{"panel":"WRM","series":"train (SN)","seg":"a","step":33900,"acc":0.705},
{"panel":"WRM","series":"train (SN)","seg":"a","step":35000,"acc":0.695},
{"panel":"WRM","series":"train (SN)","seg":"a","step":36000,"acc":0.684},
{"panel":"WRM","series":"train (SN)","seg":"a","step":37000,"acc":0.682},
{"panel":"WRM","series":"train (SN)","seg":"a","step":38100,"acc":0.677},
{"panel":"WRM","series":"train (SN)","seg":"a","step":39100,"acc":0.685},
{"panel":"WRM","series":"train (SN)","seg":"a","step":40200,"acc":0.69},
{"panel":"WRM","series":"train (SN)","seg":"a","step":41600,"acc":0.693},
{"panel":"WRM","series":"train (SN)","seg":"a","step":42500,"acc":0.688},
{"panel":"WRM","series":"train (SN)","seg":"a","step":43500,"acc":0.695},
{"panel":"WRM","series":"train (SN)","seg":"a","step":44500,"acc":0.69},
{"panel":"WRM","series":"train (SN)","seg":"a","step":45600,"acc":0.677},
{"panel":"WRM","series":"train (SN)","seg":"a","step":46400,"acc":0.69},
{"panel":"WRM","series":"train (SN)","seg":"a","step":47200,"acc":0.705},
{"panel":"WRM","series":"train (SN)","seg":"a","step":48000,"acc":0.69},
{"panel":"WRM","series":"train (SN)","seg":"a","step":48800,"acc":0.671},
{"panel":"WRM","series":"train (SN)","seg":"a","step":49800,"acc":0.685},
{"panel":"WRM","series":"train (SN)","seg":"a","step":50900,"acc":0.696},
{"panel":"WRM","series":"train (SN)","seg":"a","step":52000,"acc":0.697},
{"panel":"WRM","series":"train (SN)","seg":"a","step":53000,"acc":0.691},
{"panel":"WRM","series":"train (SN)","seg":"a","step":54000,"acc":0.688},
{"panel":"WRM","series":"train (SN)","seg":"a","step":55000,"acc":0.677},
{"panel":"WRM","series":"train (SN)","seg":"a","step":56000,"acc":0.69},
{"panel":"WRM","series":"train (SN)","seg":"a","step":57100,"acc":0.71},
{"panel":"WRM","series":"train (SN)","seg":"a","step":58000,"acc":0.70},
{"panel":"WRM","series":"train (SN)","seg":"a","step":58700,"acc":0.703},
{"panel":"WRM","series":"train (SN)","seg":"a","step":59500,"acc":0.72},
{"panel":"WRM","series":"train (SN)","seg":"a","step":60300,"acc":0.729},
{"panel":"WRM","series":"train (SN)","seg":"a","step":61100,"acc":0.715},
{"panel":"WRM","series":"train (SN)","seg":"a","step":61900,"acc":0.703},
{"panel":"WRM","series":"train (SN)","seg":"a","step":62600,"acc":0.71},
{"panel":"WRM","series":"train (SN)","seg":"a","step":63400,"acc":0.718},
{"panel":"WRM","series":"train (SN)","seg":"a","step":64400,"acc":0.715},
{"panel":"WRM","series":"train (SN)","seg":"a","step":65500,"acc":0.718},
{"panel":"WRM","series":"train (SN)","seg":"a","step":66500,"acc":0.70},
{"panel":"WRM","series":"train (SN)","seg":"a","step":67600,"acc":0.684},
{"panel":"WRM","series":"train (SN)","seg":"a","step":68700,"acc":0.673},
{"panel":"WRM","series":"train (SN)","seg":"a","step":69700,"acc":0.68},
{"panel":"WRM","series":"train (SN)","seg":"a","step":70800,"acc":0.691},
{"panel":"WRM","series":"train (SN)","seg":"a","step":71800,"acc":0.705},
{"panel":"WRM","series":"train (SN)","seg":"a","step":72800,"acc":0.718},
{"panel":"WRM","series":"train (SN)","seg":"a","step":73800,"acc":0.71},
{"panel":"WRM","series":"train (SN)","seg":"a","step":74900,"acc":0.703},
{"panel":"WRM","series":"train (SN)","seg":"a","step":76000,"acc":0.70},
{"panel":"WRM","series":"train (SN)","seg":"a","step":77000,"acc":0.691},
{"panel":"WRM","series":"train (SN)","seg":"a","step":78000,"acc":0.69},
{"panel":"WRM","series":"valid (SN)","seg":"a","step":0,"acc":0.48},
{"panel":"WRM","series":"valid (SN)","seg":"a","step":300,"acc":0.528},
{"panel":"WRM","series":"valid (SN)","seg":"a","step":700,"acc":0.48},
{"panel":"WRM","series":"valid (SN)","seg":"a","step":1100,"acc":0.541},
{"panel":"WRM","series":"valid (SN)","seg":"a","step":1500,"acc":0.53},
{"panel":"WRM","series":"valid (SN)","seg":"a","step":2000,"acc":0.55},
{"panel":"WRM","series":"valid (SN)","seg":"a","step":2500,"acc":0.555},
{"panel":"WRM","series":"valid (SN)","seg":"a","step":3040,"acc":0.562},
{"panel":"WRM","series":"valid (SN)","seg":"a","step":3500,"acc":0.528},
{"panel":"WRM","series":"valid (SN)","seg":"a","step":4000,"acc":0.55},
{"panel":"WRM","series":"valid (SN)","seg":"a","step":4600,"acc":0.555},
{"panel":"WRM","series":"valid (SN)","seg":"a","step":5600,"acc":0.553},
{"panel":"WRM","series":"valid (SN)","seg":"a","step":6700,"acc":0.548},
{"panel":"WRM","series":"valid (SN)","seg":"a","step":7700,"acc":0.552},
{"panel":"WRM","series":"valid (SN)","seg":"a","step":8800,"acc":0.555},
{"panel":"WRM","series":"valid (SN)","seg":"a","step":10300,"acc":0.562},
{"panel":"WRM","series":"valid (SN)","seg":"a","step":11900,"acc":0.569},
{"panel":"WRM","series":"valid (SN)","seg":"a","step":14000,"acc":0.568},
{"panel":"WRM","series":"valid (SN)","seg":"a","step":16100,"acc":0.569},
{"panel":"WRM","series":"valid (SN)","seg":"a","step":17700,"acc":0.573},
{"panel":"WRM","series":"valid (SN)","seg":"a","step":19300,"acc":0.576},
{"panel":"WRM","series":"valid (SN)","seg":"a","step":21400,"acc":0.578},
{"panel":"WRM","series":"valid (SN)","seg":"a","step":23500,"acc":0.582},
{"panel":"WRM","series":"valid (SN)","seg":"a","step":25500,"acc":0.58},
{"panel":"WRM","series":"valid (SN)","seg":"a","step":27600,"acc":0.582},
{"panel":"WRM","series":"valid (SN)","seg":"a","step":29700,"acc":0.583},
{"panel":"WRM","series":"valid (SN)","seg":"a","step":31800,"acc":0.585},
{"panel":"WRM","series":"valid (SN)","seg":"a","step":33900,"acc":0.59},
{"panel":"WRM","series":"valid (SN)","seg":"a","step":36000,"acc":0.596},
{"panel":"WRM","series":"valid (SN)","seg":"a","step":38100,"acc":0.60},
{"panel":"WRM","series":"valid (SN)","seg":"a","step":40200,"acc":0.603},
{"panel":"WRM","series":"valid (SN)","seg":"a","step":42500,"acc":0.604},
{"panel":"WRM","series":"valid (SN)","seg":"a","step":44900,"acc":0.607},
{"panel":"WRM","series":"valid (SN)","seg":"a","step":46800,"acc":0.605},
{"panel":"WRM","series":"valid (SN)","seg":"a","step":48800,"acc":0.603},
{"panel":"WRM","series":"valid (SN)","seg":"a","step":50900,"acc":0.606},
{"panel":"WRM","series":"valid (SN)","seg":"a","step":53000,"acc":0.607},
{"panel":"WRM","series":"valid (SN)","seg":"a","step":55000,"acc":0.605},
{"panel":"WRM","series":"valid (SN)","seg":"a","step":57100,"acc":0.603},
{"panel":"WRM","series":"valid (SN)","seg":"a","step":59200,"acc":0.61},
{"panel":"WRM","series":"valid (SN)","seg":"a","step":61300,"acc":0.616},
{"panel":"WRM","series":"valid (SN)","seg":"a","step":63400,"acc":0.62},
{"panel":"WRM","series":"valid (SN)","seg":"a","step":64500,"acc":0.623},
{"panel":"WRM","series":"valid (SN)","seg":"a","step":66000,"acc":0.618},
{"panel":"WRM","series":"valid (SN)","seg":"a","step":67600,"acc":0.62},
{"panel":"WRM","series":"valid (SN)","seg":"a","step":69700,"acc":0.603},
{"panel":"WRM","series":"valid (SN)","seg":"a","step":71200,"acc":0.61},
{"panel":"WRM","series":"valid (SN)","seg":"a","step":72800,"acc":0.612},
{"panel":"WRM","series":"valid (SN)","seg":"a","step":74400,"acc":0.607},
{"panel":"WRM","series":"valid (SN)","seg":"a","step":76000,"acc":0.61},
{"panel":"WRM","series":"valid (SN)","seg":"a","step":77200,"acc":0.606},
{"panel":"WRM","series":"valid (SN)","seg":"a","step":78000,"acc":0.603}
  ]
},
"hconcat": [
  {
    "width": 274, "height": 270,
    "title": {"text": "ELU-AlexNet FGM"},
    "layer": [
      {
        "data": {"name": "lines"},
        "transform": [{"filter": "datum.panel === 'FGM'"}],
        "mark": {"type": "line", "strokeWidth": 2.3, "strokeJoin": "round"},
        "encoding": {
          "x": {"field": "step", "type": "quantitative", "scale": {"domain": [-3900, 81900], "nice": false, "zero": false}, "axis": {"values": [0, 20000, 40000, 60000, 80000], "format": "d", "title": "training steps"}},
          "y": {"field": "acc", "type": "quantitative", "scale": {"domain": [0, 1.1], "nice": false}, "axis": {"values": [0, 0.2, 0.4, 0.6, 0.8, 1.0], "format": ".1f", "title": "accuracy"}},
          "stroke": {"field": "series", "type": "nominal", "sort": ["train", "valid", "train (SN)", "valid (SN)"], "scale": {"range": ["#000080", "#4169E1", "#FF4500", "#FFA500"]},
            "legend": {"orient": "none", "legendX": 5, "legendY": 172.5, "title": null, "symbolSize": 196, "symbolStrokeWidth": 2, "symbolFillColor": "transparent", "padding": 5, "rowPadding": 2, "labelFont": "DejaVu Sans", "labelFontSize": 14.2, "labelColor": "black", "labelOffset": 17.3, "symbolOffset": 10.7, "strokeColor": "#cccccc", "fillColor": "white", "cornerRadius": 3, "labelLimit": 300,
              "encode": {"symbols": {"update": {"strokeJoin": {"value": "round"}, "shape": {"signal": "datum.value === 'train' ? 'M-2.3,0H2.3M-1,-1H1V1H-1Z' : datum.value === 'valid' ? 'M-2.3,0H2.3M0,-1.414L1.414,0L0,1.414L-1.414,0Z' : datum.value === 'train (SN)' ? 'M-2.3,0H2.3M-1,-1H1L0,1Z' : 'M-2.3,0H2.3M0,-1.42M0,1.42M1,0C1,0.5523,0.5523,1,0,1C-0.5523,1,-1,0.5523,-1,0C-1,-0.5523,-0.5523,-1,0,-1C0.5523,-1,1,-0.5523,1,0Z'"}}}}}},
          "strokeDash": {"field": "seg", "type": "nominal", "scale": {"domain": ["a", "b"], "range": [[1, 0], [8, 4]]}, "legend": null}
        }
      },
      {
        "data": {"name": "marks"},
        "transform": [{"filter": "datum.panel === 'FGM'"}],
        "mark": {"type": "point", "filled": true, "size": 196, "stroke": "black", "strokeWidth": 1.4, "opacity": 1},
        "encoding": {
          "x": {"field": "step", "type": "quantitative"},
          "y": {"field": "acc", "type": "quantitative"},
          "fill": {"field": "label", "type": "nominal", "sort": ["train", "valid", "train (SN)", "valid (SN)"], "scale": {"range": ["#000080", "#4169E1", "#FF4500", "#FFA500"]},
            "legend": {"orient": "none", "legendX": 5, "legendY": 172.5, "title": null, "symbolSize": 196, "symbolStrokeWidth": 1.4, "symbolStrokeColor": "black", "symbolOpacity": 1, "padding": 5, "rowPadding": 2, "labelFont": "DejaVu Sans", "labelFontSize": 14.2, "labelOpacity": 0, "labelOffset": 17.3, "symbolOffset": 10.7, "labelLimit": 300,
              "encode": {"symbols": {"update": {"strokeJoin": {"value": "round"}, "stroke": {"value": "black"}, "opacity": {"value": 1}, "shape": {"signal": "datum.value === 'train' ? 'M-1,-1H1V1H-1Z' : datum.value === 'valid' ? 'M0,-1.414L1.414,0L0,1.414L-1.414,0Z' : datum.value === 'train (SN)' ? 'M-1,-1H1L0,1Z' : 'M0,-1.42M0,1.42M1,0C1,0.5523,0.5523,1,0,1C-0.5523,1,-1,0.5523,-1,0C-1,-0.5523,-0.5523,-1,0,-1C0.5523,-1,1,-0.5523,1,0Z'"}}}}}},
          "shape": {"field": "label", "type": "nominal", "sort": ["train", "valid", "train (SN)", "valid (SN)"], "scale": {"range": ["M-1,-1H1V1H-1Z", "M0,-1.414L1.414,0L0,1.414L-1.414,0Z", "M-1,-1H1L0,1Z", "circle"]}, "legend": null}
        }
      }
    ]
  },
  {
    "width": 274, "height": 270,
    "title": {"text": "ELU-AlexNet PGM"},
    "layer": [
      {
        "data": {"name": "lines"},
        "transform": [{"filter": "datum.panel === 'PGM'"}],
        "mark": {"type": "line", "strokeWidth": 2.3, "strokeJoin": "round"},
        "encoding": {
          "x": {"field": "step", "type": "quantitative", "scale": {"domain": [-3900, 81900], "nice": false, "zero": false}, "axis": {"values": [0, 20000, 40000, 60000, 80000], "format": "d", "title": "training steps"}},
          "y": {"field": "acc", "type": "quantitative", "scale": {"domain": [0, 1.1], "nice": false}, "axis": {"values": [0, 0.2, 0.4, 0.6, 0.8, 1.0], "format": ".1f", "title": null}},
          "stroke": {"field": "series", "type": "nominal", "sort": ["train", "valid", "train (SN)", "valid (SN)"], "scale": {"range": ["#000080", "#4169E1", "#FF4500", "#FFA500"]}, "legend": null},
          "strokeDash": {"field": "seg", "type": "nominal", "scale": {"domain": ["a", "b"], "range": [[1, 0], [8, 4]]}, "legend": null}
        }
      },
      {
        "data": {"name": "marks"},
        "transform": [{"filter": "datum.panel === 'PGM'"}],
        "mark": {"type": "point", "filled": true, "size": 196, "stroke": "black", "strokeWidth": 1.4, "opacity": 1},
        "encoding": {
          "x": {"field": "step", "type": "quantitative"},
          "y": {"field": "acc", "type": "quantitative"},
          "fill": {"field": "label", "type": "nominal", "sort": ["train", "valid", "train (SN)", "valid (SN)"], "scale": {"range": ["#000080", "#4169E1", "#FF4500", "#FFA500"]}, "legend": null},
          "shape": {"field": "label", "type": "nominal", "sort": ["train", "valid", "train (SN)", "valid (SN)"], "scale": {"range": ["M-1,-1H1V1H-1Z", "M0,-1.414L1.414,0L0,1.414L-1.414,0Z", "M-1,-1H1L0,1Z", "circle"]}, "legend": null}
        }
      }
    ]
  },
  {
    "width": 274, "height": 270,
    "title": {"text": "ELU-AlexNet WRM"},
    "layer": [
      {
        "data": {"name": "lines"},
        "transform": [{"filter": "datum.panel === 'WRM'"}],
        "mark": {"type": "line", "strokeWidth": 2.3, "strokeJoin": "round"},
        "encoding": {
          "x": {"field": "step", "type": "quantitative", "scale": {"domain": [-3900, 81900], "nice": false, "zero": false}, "axis": {"values": [0, 20000, 40000, 60000, 80000], "format": "d", "title": "training steps"}},
          "y": {"field": "acc", "type": "quantitative", "scale": {"domain": [0, 1.1], "nice": false}, "axis": {"values": [0, 0.2, 0.4, 0.6, 0.8, 1.0], "format": ".1f", "title": null}},
          "stroke": {"field": "series", "type": "nominal", "sort": ["train", "valid", "train (SN)", "valid (SN)"], "scale": {"range": ["#000080", "#4169E1", "#FF4500", "#FFA500"]}, "legend": null},
          "strokeDash": {"field": "seg", "type": "nominal", "scale": {"domain": ["a", "b"], "range": [[1, 0], [8, 4]]}, "legend": null}
        }
      },
      {
        "data": {"name": "marks"},
        "transform": [{"filter": "datum.panel === 'WRM'"}],
        "mark": {"type": "point", "filled": true, "size": 196, "stroke": "black", "strokeWidth": 1.4, "opacity": 1},
        "encoding": {
          "x": {"field": "step", "type": "quantitative"},
          "y": {"field": "acc", "type": "quantitative"},
          "fill": {"field": "label", "type": "nominal", "sort": ["train", "valid", "train (SN)", "valid (SN)"], "scale": {"range": ["#000080", "#4169E1", "#FF4500", "#FFA500"]}, "legend": null},
          "shape": {"field": "label", "type": "nominal", "sort": ["train", "valid", "train (SN)", "valid (SN)"], "scale": {"range": ["M-1,-1H1V1H-1Z", "M0,-1.414L1.414,0L0,1.414L-1.414,0Z", "M-1,-1H1L0,1Z", "circle"]}, "legend": null}
        }
      }
    ]
  }
]
}
